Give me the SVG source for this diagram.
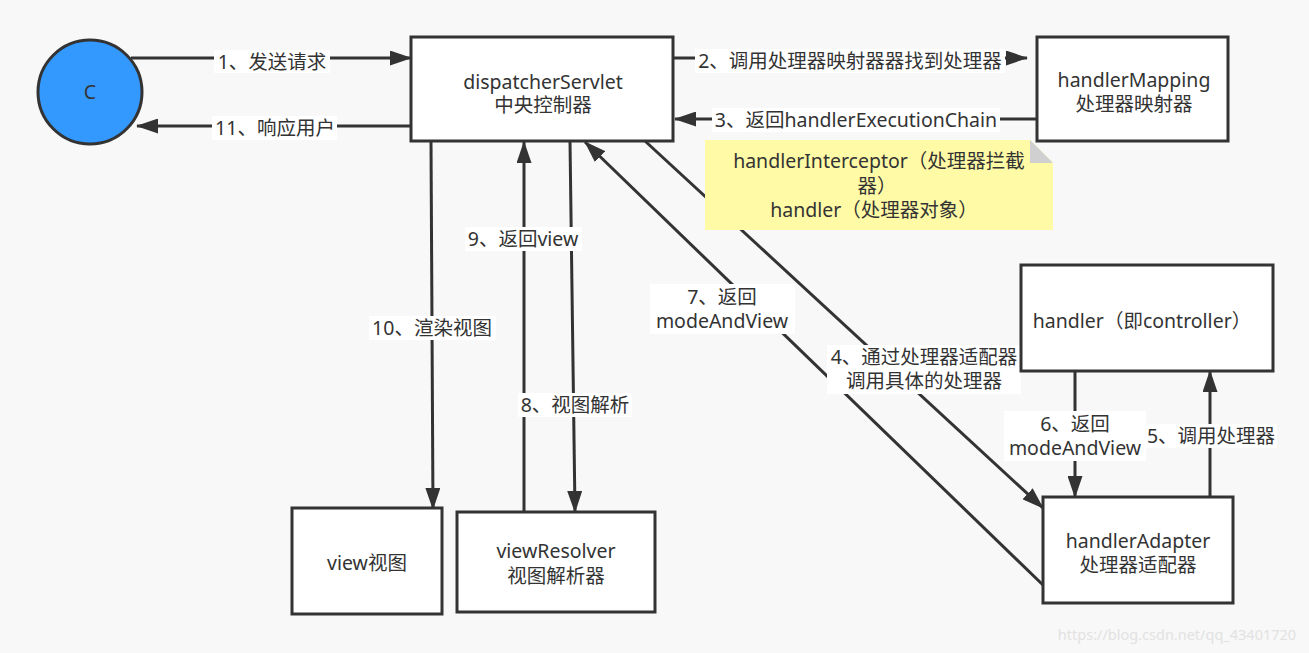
<svg xmlns="http://www.w3.org/2000/svg" width="1309" height="653" viewBox="0 0 1309 653">
<defs>
<marker id="arr" markerUnits="userSpaceOnUse" markerWidth="22" markerHeight="15" refX="21" refY="7.5" orient="auto">
<path d="M0,0 L22,7.5 L0,15 Z" fill="#333"/>
</marker>
<style>
text{font-family:"Noto Sans","Noto Sans CJK SC",sans-serif;font-size:19.5px;fill:#333;text-anchor:middle}
.box{fill:#fff;stroke:#333;stroke-width:3}
.edge{stroke:#333;stroke-width:3;fill:none;marker-end:url(#arr)}
.lbl{fill:#fff}
</style>
</defs>
<rect width="1309" height="653" fill="#f8f8f8"/>

<g id="connectors">
<line class="edge" x1="131" y1="58" x2="411" y2="58"/>
<line class="edge" x1="411" y1="126" x2="137" y2="126"/>
<line class="edge" x1="673" y1="58" x2="1027" y2="58"/>
<line class="edge" x1="1037" y1="119" x2="675" y2="119"/>
<line class="edge" x1="431" y1="141" x2="433" y2="509"/>
<line class="edge" x1="524" y1="512" x2="524" y2="142"/>
<line class="edge" x1="570" y1="141" x2="575" y2="512"/>
<line class="edge" x1="1043" y1="585" x2="585" y2="142"/>
<line class="edge" x1="645" y1="141" x2="1043" y2="508"/>
<line class="edge" x1="1075" y1="371" x2="1075" y2="497"/>
<line class="edge" x1="1210" y1="497" x2="1210" y2="371"/>

<rect class="lbl" x="214" y="50" width="116" height="23"/>
<text x="272" y="69">1、发送请求</text>
<rect class="lbl" x="212" y="116" width="125" height="24"/>
<text x="275" y="135">11、响应用户</text>
<rect class="lbl" x="695" y="49" width="310" height="24"/>
<text x="850" y="68">2、调用处理器映射器器找到处理器</text>
<rect class="lbl" x="712" y="108" width="288" height="24"/>
<text x="856" y="127">3、返回handlerExecutionChain</text>
<rect class="lbl" x="369" y="316" width="127" height="24"/>
<text x="432" y="335">10、渲染视图</text>
<rect class="lbl" x="465" y="227" width="117" height="24"/>
<text x="523" y="246">9、返回view</text>
<rect class="lbl" x="518" y="393" width="114" height="24"/>
<text x="575" y="412">8、视图解析</text>
<rect class="lbl" x="650" y="284" width="145" height="50"/>
<text x="722" y="304">7、返回<tspan x="722" dy="24">modeAndView</tspan></text>
<rect class="lbl" x="827" y="345" width="194" height="49"/>
<text x="924" y="364">4、通过处理器适配器<tspan x="924" dy="24">调用具体的处理器</tspan></text>
<rect class="lbl" x="1004" y="411" width="142" height="50"/>
<text x="1075" y="431">6、返回<tspan x="1075" dy="24">modeAndView</tspan></text>
<rect class="lbl" x="1145" y="424" width="132" height="24"/>
<text x="1211" y="443">5、调用处理器</text>
</g>

<g id="client">
<circle cx="90" cy="92" r="52" fill="#3399ff" stroke="#333" stroke-width="3"/>
<text x="90" y="99">C</text>
</g>

<g id="dispatcherServlet">
<rect class="box" x="411" y="37" width="262" height="104"/>
<text x="543" y="89">dispatcherServlet<tspan x="543" dy="23">中央控制器</tspan></text>
</g>

<g id="handlerMapping">
<rect class="box" x="1037" y="37" width="191" height="104"/>
<text x="1134" y="87">handlerMapping<tspan x="1134" dy="24">处理器映射器</tspan></text>
</g>

<g id="note">
<path d="M705,140 H1030 L1053,163 V230 H705 Z" fill="#fffaa6"/>
<path d="M1030,140 L1053,163 H1030 Z" fill="#d0d0d0"/>
<text x="879" y="168">handlerInterceptor（处理器拦截<tspan x="877" dy="25">器）</tspan><tspan x="874" dy="24">handler（处理器对象）</tspan></text>
</g>

<g id="handler">
<rect class="box" x="1021" y="265" width="252" height="106"/>
<text x="1142" y="328">handler（即controller）</text>
</g>

<g id="handlerAdapter">
<rect class="box" x="1043" y="497" width="190" height="106"/>
<text x="1138" y="548">handlerAdapter<tspan x="1138" dy="24">处理器适配器</tspan></text>
</g>

<g id="view">
<rect class="box" x="292" y="508" width="150" height="106"/>
<text x="367" y="570">view视图</text>
</g>

<g id="viewResolver">
<rect class="box" x="457" y="512" width="198" height="100"/>
<text x="556" y="558">viewResolver<tspan x="556" dy="25">视图解析器</tspan></text>
</g>

<text x="1177" y="640" style="font-size:14.5px;fill:#e2e2e2">https://blog.csdn.net/qq_43401720</text>
</svg>
